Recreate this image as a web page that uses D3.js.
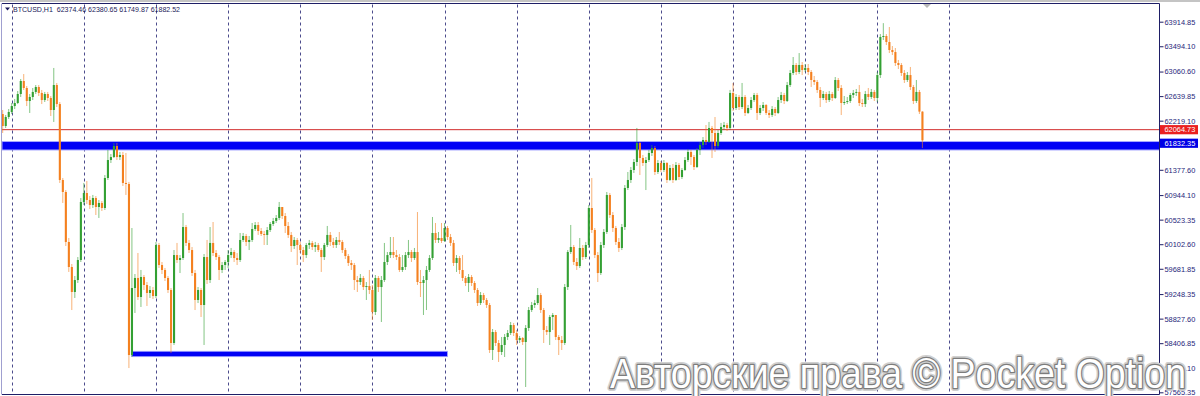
<!DOCTYPE html>
<html><head><meta charset="utf-8">
<script src="https://cdn.jsdelivr.net/npm/d3@7"></script>
<style>html,body{margin:0;padding:0;background:#fff;}svg{display:block;}</style>
</head><body>
<svg id="chart" width="1200" height="396"></svg>
<script>
// ---------------- data ----------------
const symbolTitle = "BTCUSD,H1";
const lastOHLC = [62374.46, 62380.65, 61749.87, 61882.52];
const firstOpen = 62333;
const closes = [62128,62282,62368,62470,62522,62676,62899,62779,62556,62625,62711,62796,62694,62573,62676,62608,62402,62830,62504,61203,60997,60141,59712,59284,59489,59832,60826,60980,60860,60775,60894,60740,60809,60723,61237,61545,61596,61785,61596,61631,61152,61134,58204,59352,59524,59198,59541,59404,59267,59318,59215,60089,59746,59661,59524,59318,58410,59917,59832,59866,60397,60124,60003,59609,59147,59318,59061,59883,59489,60124,59952,59883,59661,59746,59798,59917,59969,59866,59832,60175,60243,60141,60175,60363,60432,60329,60278,60261,60346,60449,60500,60552,60740,60586,60415,60261,60072,60175,60089,60003,59917,60089,60124,60055,60089,60003,59883,60089,60261,60141,60089,60175,60141,60003,59900,59781,59746,59489,59455,59524,59369,59386,59318,58941,59524,59369,59489,59798,59917,59969,59917,59883,59661,59712,59917,59969,59866,59969,59455,59438,59489,59661,59866,60295,60175,60209,60158,60380,60226,60124,59781,59866,59661,59524,59438,59541,59438,59318,59095,59232,59147,59061,58290,58598,58410,58256,58376,58513,58581,58718,58581,58461,58496,58427,58667,58975,59061,59095,59232,58975,58633,58598,58856,58890,58513,58461,58410,59369,59969,60055,59798,59729,60038,59883,60089,60723,60346,59917,59609,60089,60312,60946,60603,60380,60141,60038,60397,61066,61203,61374,61511,61837,61580,61494,61545,61665,61751,61340,61494,61374,61494,61203,61408,61203,61460,61254,61374,61545,61683,61596,61425,61717,61802,61888,61854,62094,62008,61785,62008,62111,62145,62094,62694,62436,62625,62453,62625,62351,62436,62573,62659,62351,62436,62488,62351,62316,62419,62351,62573,62659,62556,62830,63036,63173,63053,63173,63087,63122,63053,62916,62882,62745,62608,62676,62573,62676,62608,62916,62779,62522,62539,62556,62659,62694,62711,62522,62504,62676,62625,62711,62608,63001,63653,63670,63567,63430,63395,63207,63173,63036,62916,63001,62796,62556,62711,62374.46,61882.52];
const highs = [62402,62316,62419,62522,62591,62728,62933,63018,62813,62676,62779,62830,62830,62745,62711,62711,62642,63122,62865,62539,61237,61031,60209,59763,59558,59883,60894,61152,61186,60928,60946,60928,60860,60843,61288,61717,61648,61837,61837,61683,61683,61666,61169,60380,59592,59952,59661,59575,59455,59386,59369,60141,60124,59798,59695,59558,59352,60003,60124,59917,60637,60432,60175,60055,59661,59369,59352,59935,60175,60397,60483,60003,59917,59798,59832,60003,60038,60003,59952,60295,60295,60278,60243,60466,60483,60483,60380,60329,60397,60483,60552,60603,60826,60740,60637,60483,60312,60226,60209,60141,60055,60124,60175,60158,60141,60124,60038,60124,60415,60312,60209,60226,60312,60175,60038,59935,59832,59781,59558,59592,59558,59455,59661,59404,59575,59558,59558,60124,59969,60226,60226,60003,59935,59917,59969,60175,60003,60038,60654,59661,59558,59729,59917,60569,60466,60312,60466,60466,60415,60278,60175,59917,59900,59917,59558,59592,59575,59472,59352,59284,59267,59181,59095,58650,58633,58461,58513,58564,58633,58770,58753,58633,58530,58513,58718,59027,59113,59147,59352,59267,59010,58701,58890,58924,58890,58547,58530,59421,60003,60432,60089,59866,60209,60089,60141,60775,61237,60380,59969,60141,60363,60997,60980,60654,60415,60209,60449,61117,61340,61425,61562,62094,61854,61631,61596,61717,61802,61785,61545,61528,61545,61511,61460,61477,61511,61494,61408,61596,61734,61717,61631,61751,61854,61939,62145,62197,62128,62282,62059,62180,62197,62180,62745,62865,62676,62659,62865,62659,62488,62625,62694,62694,62488,62539,62504,62402,62470,62453,62625,62711,62694,62882,63087,63310,63207,63378,63224,63190,63190,63087,62985,62916,62796,62728,62711,62728,62711,62967,62950,62830,62642,62625,62694,62745,62762,62830,62591,62728,62779,62762,62745,63053,63704,63890,63704,63824,63498,63464,63259,63207,63087,63053,63139,62830,62916,62745,62380.65];
const lows = [62008,62094,62248,62333,62419,62504,62625,62745,62470,62351,62573,62676,62642,62504,62539,62556,62299,62197,62453,61152,60809,60072,59627,58975,59181,59438,59798,60775,60791,60706,60723,60603,60552,60672,60689,61203,61494,61580,61545,61545,61100,60946,57981,58170,58924,59147,59027,59318,59044,59181,59164,59181,59695,59592,59472,59267,58239,58376,59781,59609,59832,60072,59952,59558,58975,59095,58856,58376,59421,59438,59900,59832,59489,59609,59661,59695,59866,59798,59746,59798,60141,60072,60003,60141,60329,60261,60243,60089,60089,60312,60415,60466,60517,60535,60295,60209,59969,60021,59746,59952,59798,59866,60021,60003,59969,59969,59627,59832,60055,60072,60038,60038,60089,59952,59849,59729,59661,59318,59284,59404,59318,59147,59249,58804,58890,59284,58770,59455,59746,59866,59866,59832,59627,59627,59661,59866,59798,59832,59404,59198,58890,58975,59627,59832,60124,60124,60124,60141,60175,60072,59729,59627,59592,59472,59386,59284,59386,59267,59044,59061,59095,59010,58239,58119,58358,58085,58204,58170,58461,58547,58530,58376,58410,58376,57656,58616,58941,59010,59061,58924,58410,58547,58376,58633,58461,58204,58290,58376,59318,59935,59746,59661,59695,59832,59849,60038,60295,59866,59455,59575,60038,60278,60552,60312,60089,59969,60003,60346,61031,61152,61323,61443,61288,61443,61031,61511,61614,61288,61306,61340,61340,61152,61186,61152,61186,61203,61220,61357,61511,61460,61374,61408,61631,61751,61802,61837,61580,61683,61751,61974,62059,62042,62059,62385,62402,62402,62419,62299,62333,62402,62539,62231,62316,62385,62316,62265,62282,62299,62333,62522,62504,62539,62796,63001,63001,63018,63001,63053,63001,62796,62830,62694,62453,62573,62522,62539,62556,62591,62728,62316,62488,62504,62522,62608,62642,62470,62453,62453,62573,62591,62556,62539,62950,63601,63515,63378,63344,63156,63104,62985,62865,62882,62745,62504,62522,62333,61749.87];
// bar index of each day separator (vertical dashed grid)
const daySeparators = [3,27,51,75,99,123,147,171,195,219,243,267,291,315];
const priceTicks = [63914.85,63494.10,63060.60,62639.85,62219.10,61377.60,60944.10,60523.35,60102.60,59681.85,59248.35,58827.60,58406.85,57986.10,57565.35];
const resistanceLevel = 62064.73;
const supportZone = [61717, 61862];
const supportLabel = 61832.35;
const lowerLevel = 58222;
const lowerLevelBars = [43, 148];
const watermark = "Авторские права © Pocket Option";

// ---------------- chart ----------------
const svg = d3.select("#chart");
const plotLeft = 2, plotRight = 1159.5, plotTop = 3.5, plotBottom = 394.5;
const x = d3.scaleLinear().domain([0, 306]).range([2.68, 922.4]);
const y = d3.scaleLinear().domain([57565.35, 63914.85]).range([392.3, 21.7]);

const candles = closes.map((c, i) => {
  const o = i === 0 ? firstOpen : closes[i - 1];
  return {i, o, c, h: Math.max(highs[i], o, c), l: Math.min(lows[i], o, c)};
});

// window top border
svg.append("rect").attr("x", 0).attr("y", 0).attr("width", 1200).attr("height", 2).attr("fill", "#c4c4c4");

// day separators
svg.append("g").selectAll("line").data(daySeparators).join("line")
  .attr("x1", d => Math.round(x(d)) + 0.5).attr("x2", d => Math.round(x(d)) + 0.5)
  .attr("y1", plotTop + 1).attr("y2", plotBottom)
  .attr("stroke", "#2c2c78").attr("stroke-width", 1).attr("stroke-dasharray", "3,3").attr("opacity", 0.85);

// resistance line
svg.append("line").attr("x1", plotLeft).attr("x2", plotRight)
  .attr("y1", y(resistanceLevel)).attr("y2", y(resistanceLevel))
  .attr("stroke", "#d22a2a").attr("stroke-width", 1);

// support zone
svg.append("rect").attr("x", plotLeft).attr("width", plotRight - plotLeft)
  .attr("y", y(supportZone[1])).attr("height", y(supportZone[0]) - y(supportZone[1]))
  .attr("fill", "#0000f5").attr("stroke", "#a6a6ff").attr("stroke-width", 1);

// lower level segment
svg.append("rect").attr("x", x(lowerLevelBars[0])).attr("width", x(lowerLevelBars[1]) - x(lowerLevelBars[0]))
  .attr("y", y(lowerLevel) - 2.7).attr("height", 5.4)
  .attr("fill", "#0000f5").attr("stroke", "#a6a6ff").attr("stroke-width", 0.8);

// candles
const bull = "#33a033", bear = "#f4801f";
const g = svg.append("g");
g.selectAll("line.wick").data(candles).join("line").attr("class", "wick")
  .attr("x1", d => x(d.i)).attr("x2", d => x(d.i))
  .attr("y1", d => y(d.h)).attr("y2", d => y(d.l))
  .attr("stroke", d => d.c >= d.o ? bull : bear).attr("stroke-width", 1).attr("opacity", 0.6);
g.selectAll("rect.body").data(candles).join("rect").attr("class", "body")
  .attr("x", d => x(d.i) - 1).attr("width", 2.1)
  .attr("y", d => y(Math.max(d.o, d.c)))
  .attr("height", d => Math.max(1, Math.abs(y(d.o) - y(d.c))))
  .attr("fill", d => d.c >= d.o ? bull : bear);

// frame
svg.append("line").attr("x1", plotLeft).attr("x2", plotRight).attr("y1", plotTop).attr("y2", plotTop).attr("stroke", "#1e1e66");
svg.append("line").attr("x1", plotLeft).attr("x2", plotRight).attr("y1", plotBottom).attr("y2", plotBottom).attr("stroke", "#1e1e66");
svg.append("line").attr("x1", 1.5).attr("x2", 1.5).attr("y1", plotTop).attr("y2", plotBottom).attr("stroke", "#a0a0d0");
svg.append("line").attr("x1", plotRight).attr("x2", plotRight).attr("y1", plotTop).attr("y2", plotBottom).attr("stroke", "#1e1e66");

// chart-shift marker
svg.append("path").attr("d", "M923,4 L931,4 L927,8 Z").attr("fill", "#b8b8b8");

// price axis
const axis = d3.axisRight(y).tickValues(priceTicks).tickSize(4).tickSizeOuter(0).tickPadding(1)
  .tickFormat(d3.format(".2f"));
const ag = svg.append("g").attr("transform", `translate(${plotRight},0)`).call(axis);
ag.select(".domain").remove();
ag.selectAll(".tick line").attr("stroke", "#1e1e66");
ag.selectAll(".tick text").attr("fill", "#26267a")
  .style("font-family", "'Liberation Sans', Arial, sans-serif").style("font-size", "7.4px");

// level labels
function levelLabel(val, fill) {
  const yy = y(val);
  svg.append("rect").attr("x", 1160).attr("y", yy - 4.6).attr("width", 38).attr("height", 9.2).attr("fill", fill);
  svg.append("text").attr("x", 1164.5).attr("y", yy + 2.7).text(d3.format(".2f")(val))
    .attr("fill", "#fff").style("font-family", "'Liberation Sans', Arial, sans-serif").style("font-size", "7.4px");
}
levelLabel(resistanceLevel, "#ea2020");
levelLabel(supportLabel, "#0000e6");

// title
svg.append("path").attr("d", "M5,7.5 L10,7.5 L7.5,10.5 Z").attr("fill", "#1a1a5a");
svg.append("text").attr("x", 13).attr("y", 11.5).attr("xml:space", "preserve")
  .text(`${symbolTitle}  ${lastOHLC.map(v => v.toFixed(2)).join(" ")}`)
  .attr("textLength", 167).attr("lengthAdjust", "spacingAndGlyphs")
  .attr("fill", "#1a1a5a").style("font-family", "'Liberation Sans', Arial, sans-serif").style("font-size", "7.6px");

// watermark
const wm = svg.append("g").style("font-family", "'Liberation Sans', Arial, sans-serif").style("font-size", "42px");
wm.append("text").attr("x", 610).attr("y", 388).text(watermark)
  .attr("textLength", 576).attr("lengthAdjust", "spacingAndGlyphs")
  .attr("fill", "none").attr("stroke", "#d0d0d0").attr("stroke-width", 6).attr("stroke-linejoin", "round");
wm.append("text").attr("x", 610).attr("y", 388).text(watermark)
  .attr("textLength", 576).attr("lengthAdjust", "spacingAndGlyphs")
  .attr("fill", "#ffffff").attr("stroke", "#7c7c7c").attr("stroke-width", 2.6)
  .attr("stroke-linejoin", "round").style("paint-order", "stroke");
</script>
</body></html>
